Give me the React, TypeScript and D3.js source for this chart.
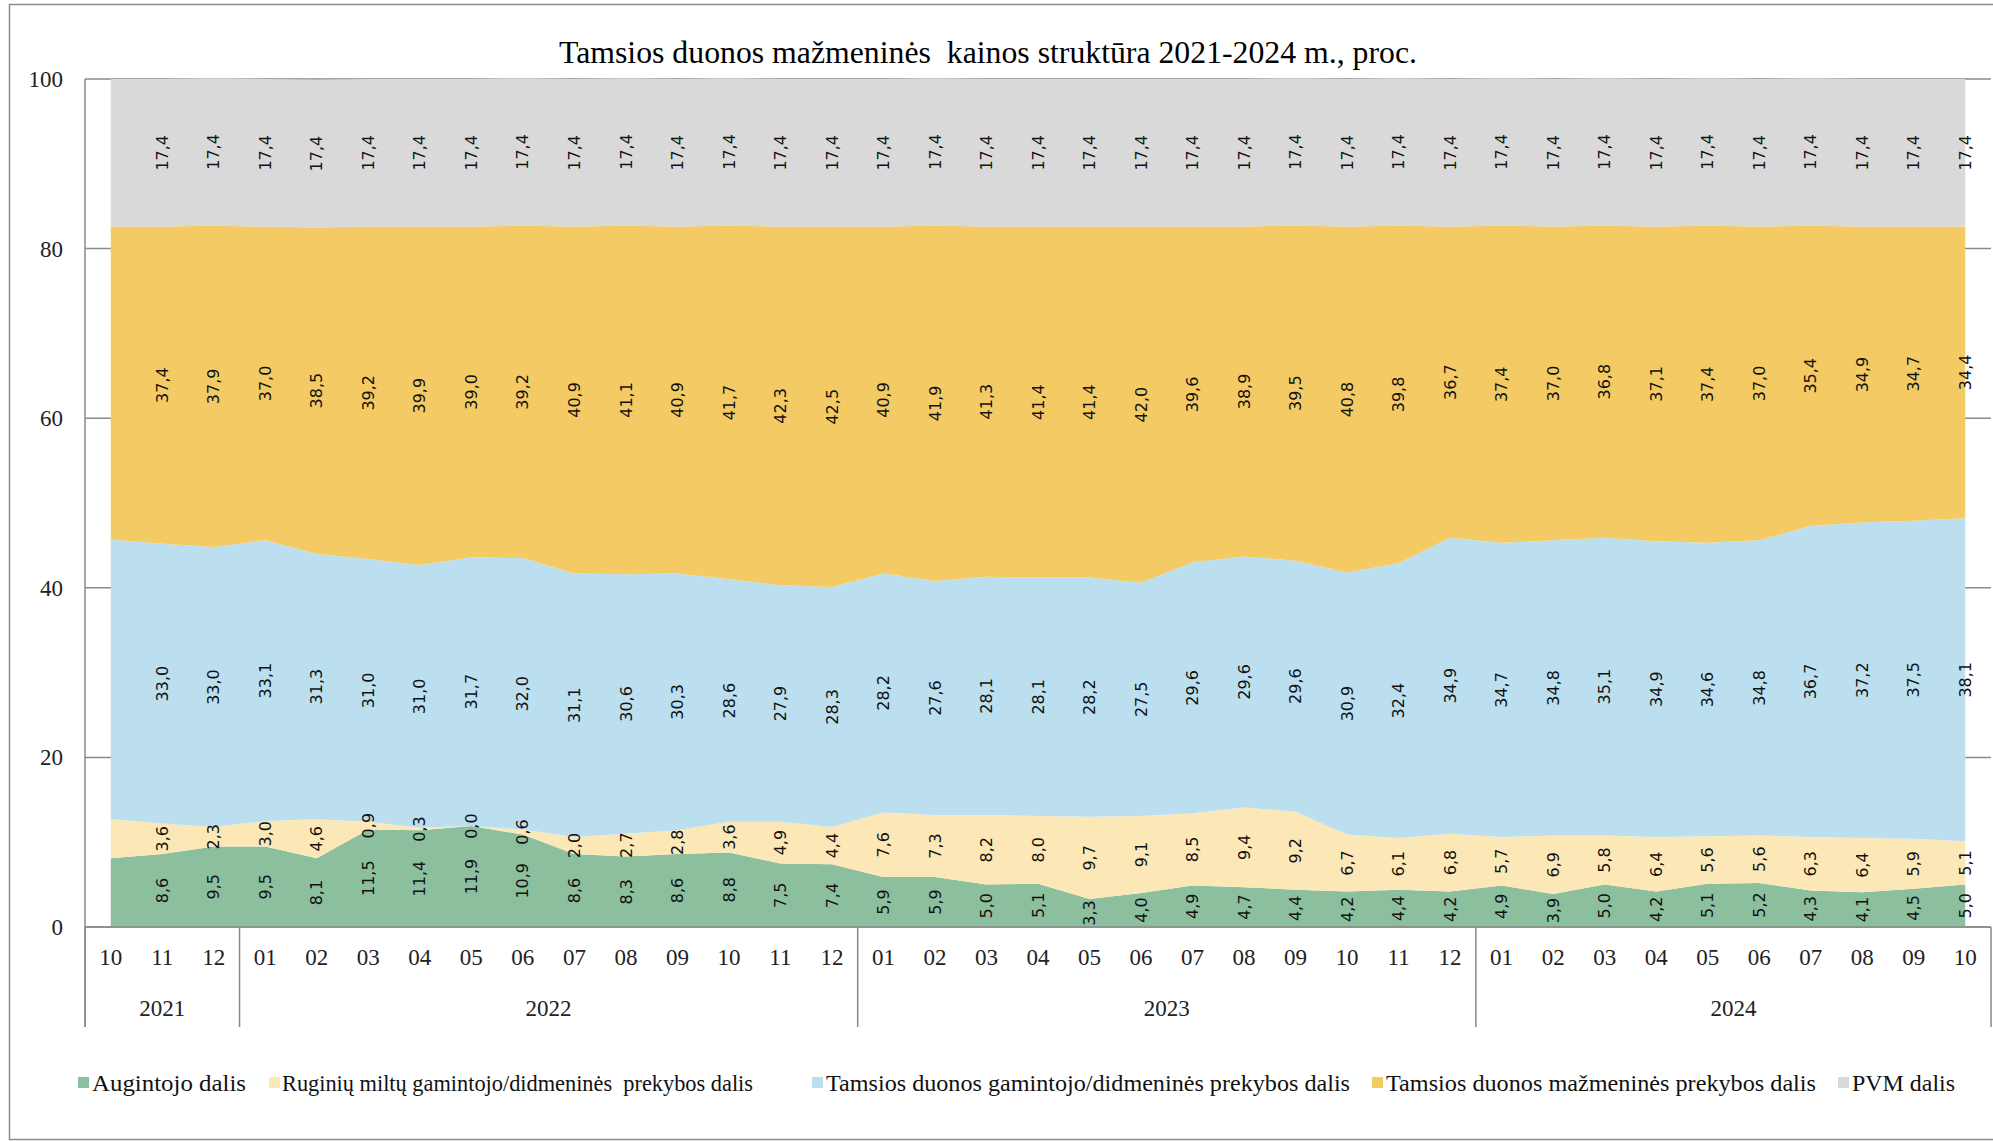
import React from "react";
import * as d3 from "d3";

// ---- data ----
const YEARS = ["2021", "2022", "2023", "2024"];
const MONTHS_2021 = ["10", "11", "12"];
const MONTHS_2022 = ["01", "02", "03", "04", "05", "06", "07", "08", "09", "10", "11", "12"];
const MONTHS_2023 = ["01", "02", "03", "04", "05", "06", "07", "08", "09", "10", "11", "12"];
const MONTHS_2024 = ["01", "02", "03", "04", "05", "06", "07", "08", "09", "10"];

const SERIES_NAMES = [
  "Augintojo dalis",
  "Ruginių miltų gamintojo/didmeninės  prekybos dalis",
  "Tamsios duonos gamintojo/didmeninės prekybos dalis",
  "Tamsios duonos mažmeninės prekybos dalis",
  "PVM dalis",
];

const AUGINTOJO = [8.1, 8.6, 9.5, 9.5, 8.1, 11.5, 11.4, 11.9, 10.9, 8.6, 8.3, 8.6, 8.8, 7.5, 7.4, 5.9, 5.9, 5.0, 5.1, 3.3, 4.0, 4.9, 4.7, 4.4, 4.2, 4.4, 4.2, 4.9, 3.9, 5.0, 4.2, 5.1, 5.2, 4.3, 4.1, 4.5, 5.0];
const RUGINIU = [4.6, 3.6, 2.3, 3.0, 4.6, 0.9, 0.3, 0.0, 0.6, 2.0, 2.7, 2.8, 3.6, 4.9, 4.4, 7.6, 7.3, 8.2, 8.0, 9.7, 9.1, 8.5, 9.4, 9.2, 6.7, 6.1, 6.8, 5.7, 6.9, 5.8, 6.4, 5.6, 5.6, 6.3, 6.4, 5.9, 5.1];
const GAMINTOJO = [33.0, 33.0, 33.0, 33.1, 31.3, 31.0, 31.0, 31.7, 32.0, 31.1, 30.6, 30.3, 28.6, 27.9, 28.3, 28.2, 27.6, 28.1, 28.1, 28.2, 27.5, 29.6, 29.6, 29.6, 30.9, 32.4, 34.9, 34.7, 34.8, 35.1, 34.9, 34.6, 34.8, 36.7, 37.2, 37.5, 38.1];
const MAZMENINE = [36.9, 37.4, 37.9, 37.0, 38.5, 39.2, 39.9, 39.0, 39.2, 40.9, 41.1, 40.9, 41.7, 42.3, 42.5, 40.9, 41.9, 41.3, 41.4, 41.4, 42.0, 39.6, 38.9, 39.5, 40.8, 39.8, 36.7, 37.4, 37.0, 36.8, 37.1, 37.4, 37.0, 35.4, 34.9, 34.7, 34.4];
const PVM = [17.4, 17.4, 17.4, 17.4, 17.4, 17.4, 17.4, 17.4, 17.4, 17.4, 17.4, 17.4, 17.4, 17.4, 17.4, 17.4, 17.4, 17.4, 17.4, 17.4, 17.4, 17.4, 17.4, 17.4, 17.4, 17.4, 17.4, 17.4, 17.4, 17.4, 17.4, 17.4, 17.4, 17.4, 17.4, 17.4, 17.4];

const Y_TICKS = [0, 20, 40, 60, 80, 100];
const TITLE = "Tamsios duonos mažmeninės  kainos struktūra 2021-2024 m., proc.";

// ---- styles / layout ----
const COLORS = ["#8CBF9E", "#FCE8B6", "#BCDFF0", "#F4CA64", "#D9D9D9"];
const W = 1993;
const H = 1142;
const PLOT_L = 85;
const PLOT_R = 1991;
const PLOT_T = 79;
const PLOT_B = 927;
const SERIF = "'Liberation Serif', 'Times New Roman', serif";
const SANS = "'DejaVu Sans', Verdana, sans-serif";
const AXIS_COLOR = "#8A8A8A";
const LEGEND_SQ_X = [78, 269, 812, 1372, 1838];
const LEGEND_TX_X = [92, 282, 826, 1386, 1852];
const LEGEND_TX_W = [154, 471, 524, 430, 103];

const fmt = (v: number) => d3.format(".1f")(v).replace(".", ",");

export default function App() {
  const monthsByYear = [MONTHS_2021, MONTHS_2022, MONTHS_2023, MONTHS_2024];
  const cats: string[] = [];
  const catMonth: string[] = [];
  monthsByYear.forEach((ms, yi) =>
    ms.forEach((m) => {
      cats.push(`${YEARS[yi]}-${m}`);
      catMonth.push(m);
    })
  );

  const x = d3.scaleBand<string>().domain(cats).range([PLOT_L, PLOT_R]).paddingInner(0).paddingOuter(0);
  const bw = x.bandwidth();
  const cx = (c: string) => (x(c) as number) + bw / 2;
  const y = d3.scaleLinear().domain([0, 100]).range([PLOT_B, PLOT_T]);

  const keys = ["a", "b", "c", "d", "e"];
  const table = cats.map((c, i) => ({
    cat: c,
    a: AUGINTOJO[i],
    b: RUGINIU[i],
    c: GAMINTOJO[i],
    d: MAZMENINE[i],
    e: PVM[i],
  }));
  const stacked = d3.stack<any>().keys(keys)(table);

  const area = d3
    .area<any>()
    .x((d) => cx(d.data.cat))
    .y0((d) => y(d[0]))
    .y1((d) => y(d[1]))
    .curve(d3.curveLinear);

  let start = 0;
  const groups = monthsByYear.map((ms, yi) => {
    const g = { year: YEARS[yi], from: start, to: start + ms.length };
    start += ms.length;
    return g;
  });

  const groupBoundaries = [PLOT_L, ...groups.map((g) => PLOT_L + g.to * bw)];

  return (
    <div style={{ position: "fixed", left: 0, top: 0 }}>
      <svg width={W} height={H} viewBox={`0 0 ${W} ${H}`} style={{ display: "block", background: "#fff" }}>
        <rect x={9.5} y={4.5} width={W + 10} height={1135} fill="#fff" stroke="#8C8C8C" strokeWidth={1.5} />

        {/* title */}
        <text
          x={988}
          y={63}
          textAnchor="middle"
          fontFamily={SERIF}
          fontSize={31.5}
          fill="#000"
          textLength={858}
          lengthAdjust="spacingAndGlyphs"
          style={{ whiteSpace: "pre" }}
        >
          {TITLE}
        </text>

        {/* gridlines */}
        {Y_TICKS.map((t) => (
          <line key={"g" + t} x1={PLOT_L} x2={PLOT_R} y1={y(t)} y2={y(t)} stroke={AXIS_COLOR} strokeWidth={1.5} />
        ))}

        {/* areas */}
        {stacked.map((s, i) => (
          <path key={s.key} d={area(s) as string} fill={COLORS[i]} stroke="none" />
        ))}

        {/* y axis */}
        <line x1={PLOT_L} x2={PLOT_L} y1={PLOT_T} y2={1027} stroke={AXIS_COLOR} strokeWidth={1.5} />
        {Y_TICKS.map((t) => (
          <text key={"yt" + t} x={63} y={y(t)} dy="0.35em" textAnchor="end" fontFamily={SERIF} fontSize={23} fill="#222">
            {t}
          </text>
        ))}

        {/* x axis */}
        <line x1={PLOT_L} x2={PLOT_R} y1={PLOT_B} y2={PLOT_B} stroke={AXIS_COLOR} strokeWidth={1.5} />
        {groupBoundaries.map((bx, i) => (
          <line key={"sep" + i} x1={bx} x2={bx} y1={PLOT_B} y2={1027} stroke={AXIS_COLOR} strokeWidth={1.5} />
        ))}
        {cats.map((c, i) => (
          <text key={"m" + c} x={cx(c)} y={957} dy="0.35em" textAnchor="middle" fontFamily={SERIF} fontSize={23} fill="#222">
            {catMonth[i]}
          </text>
        ))}
        {groups.map((g) => (
          <text
            key={"yr" + g.year}
            x={PLOT_L + ((g.from + g.to) / 2) * bw}
            y={1008}
            dy="0.35em"
            textAnchor="middle"
            fontFamily={SERIF}
            fontSize={23}
            fill="#222"
          >
            {g.year}
          </text>
        ))}

        {/* data labels (first month has none) */}
        {stacked.map((s) =>
          s.map((d: any, i: number) => {
            if (i === 0) return null;
            const v = d[1] - d[0];
            const px = cx(d.data.cat);
            const py = y((d[0] + d[1]) / 2);
            return (
              <text
                key={s.key + i}
                transform={`translate(${px},${py}) rotate(-90)`}
                textAnchor="middle"
                dy="0.35em"
                fontFamily={SANS}
                fontSize={16}
                fill="#111"
              >
                {fmt(v)}
              </text>
            );
          })
        )}

        {/* legend */}
        {SERIES_NAMES.map((n, i) => (
          <g key={"lg" + i}>
            <rect x={LEGEND_SQ_X[i]} y={1077} width={11} height={11} fill={COLORS[i]} />
            <text
              x={LEGEND_TX_X[i]}
              y={1083}
              dy="0.35em"
              fontFamily={SERIF}
              fontSize={23}
              fill="#111"
              textLength={LEGEND_TX_W[i]}
              lengthAdjust="spacingAndGlyphs"
              style={{ whiteSpace: "pre" }}
            >
              {n}
            </text>
          </g>
        ))}
      </svg>
    </div>
  );
}
